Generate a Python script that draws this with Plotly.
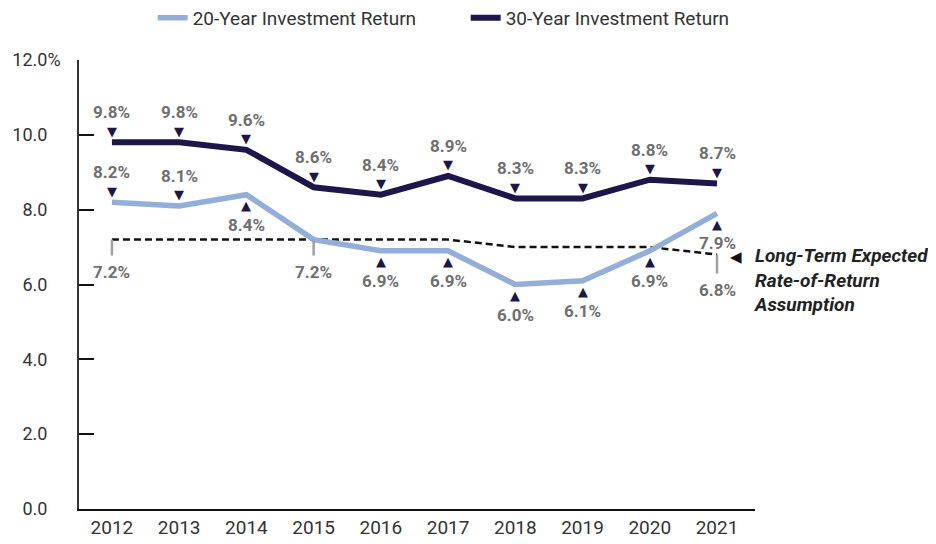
import plotly.graph_objects as go

years = [2012, 2013, 2014, 2015, 2016, 2017, 2018, 2019, 2020, 2021]
ret20 = [8.2, 8.1, 8.4, 7.2, 6.9, 6.9, 6.0, 6.1, 6.9, 7.9]
ret30 = [9.8, 9.8, 9.6, 8.6, 8.4, 8.9, 8.3, 8.3, 8.8, 8.7]
assumption = [7.2, 7.2, 7.2, 7.2, 7.2, 7.2, 7.0, 7.0, 7.0, 6.8]
# label side for 20-year series: 1 = above, -1 = below, 0 = no label
side20 = [1, 1, -1, 0, -1, -1, -1, -1, -1, -1]
# assumption labels shown at these years
assump_label_years = [2012, 2015, 2021]
assump_tick_len = [16, 16, 19]

y_tickvals = [0, 2, 4, 6, 8, 10, 12]
y_ticktext = ["0.0", "2.0", "4.0", "6.0", "8.0", "10.0", "12.0%"]

C20 = "#93AED8"
C30 = "#1C1748"
LBL = "#6F6F6F"
FONT = "Roboto"

fig = go.Figure()
fig.add_trace(go.Scatter(x=years, y=assumption, mode="lines", showlegend=False,
                         line=dict(color="#111111", width=2.5, dash="7px,4px"),
                         hoverinfo="skip"))
fig.add_trace(go.Scatter(x=years, y=ret20, mode="lines", name="20-Year Investment Return",
                         line=dict(color=C20, width=5.5)))
fig.add_trace(go.Scatter(x=years, y=ret30, mode="lines", name="30-Year Investment Return",
                         line=dict(color=C30, width=6)))

ann = []
shapes = []

def point_label(x, y, direction):
    if direction == 0:
        return
    tri = "▼" if direction > 0 else "▲"
    ann.append(dict(x=x, y=y, xref="x", yref="y", text=tri, showarrow=False,
                    yshift=11 * direction, font=dict(family="DejaVu Sans", size=13, color=C30)))
    ann.append(dict(x=x, y=y, xref="x", yref="y", text=f"<b>{y:.1f}%</b>", showarrow=False,
                    yshift=30 * direction, font=dict(family=FONT, size=17, color=LBL)))

for x, y in zip(years, ret30):
    point_label(x, y, 1)
for x, y, s in zip(years, ret20, side20):
    point_label(x, y, s)

for yr, tl in zip(assump_label_years, assump_tick_len):
    v = assumption[years.index(yr)]
    shapes.append(dict(type="line", xref="x", yref="y", x0=yr, x1=yr,
                       ysizemode="pixel", yanchor=v, y0=0, y1=-tl,
                       line=dict(color="#A0A0A0", width=2.5)))
    ann.append(dict(x=yr, y=v, xref="x", yref="y", text=f"<b>{v:.1f}%</b>", showarrow=False,
                    yshift=-(tl + 16), font=dict(family=FONT, size=17, color=LBL)))

last_x, last_v = years[-1], assumption[-1]
ann.append(dict(x=last_x, y=last_v, xref="x", yref="y", text="◀", showarrow=False,
                xshift=19, yshift=-2, font=dict(family="DejaVu Sans", size=15, color="#111111")))
ann.append(dict(x=last_x, y=last_v, xref="x", yref="y",
                text="<b><i>Long-Term Expected<br>Rate-of-Return<br>Assumption</i></b>",
                showarrow=False, xanchor="left", yanchor="middle", align="left",
                xshift=35, yshift=-25,
                font=dict(family=FONT, size=19, color="#222222")))

ticktext_padded = [t if t.endswith("%") else t + "<span style='color:rgba(0,0,0,0)'>%</span>"
                   for t in y_ticktext]

fig.update_layout(
    width=928, height=536,
    margin=dict(l=71, r=181, t=52, b=35, autoexpand=False),
    plot_bgcolor="white", paper_bgcolor="white",
    font=dict(family=FONT, size=18, color="#333333"),
    showlegend=True,
    legend=dict(orientation="h", x=0.109, xanchor="left", y=1.094, yanchor="middle",
                font=dict(family=FONT, size=19, color="#333333"),
                entrywidth=268, entrywidthmode="pixels", bgcolor="rgba(0,0,0,0)"),
    xaxis=dict(range=[2011.51, 2021.565], tickvals=years, ticktext=[str(y) for y in years],
               showgrid=False, zeroline=False, showline=True, linecolor="#111111",
               linewidth=1.5, ticks="", tickfont=dict(size=19, color="#333333"),
               automargin=False),
    yaxis=dict(range=[0, 12], tickvals=y_tickvals, ticktext=ticktext_padded,
               showgrid=False, zeroline=False, showline=True, linecolor="#333333",
               linewidth=1.5, ticks="inside", ticklen=15, tickwidth=2, tickcolor="#111111",
               ticklabelstandoff=13, tickfont=dict(size=18, color="#333333"),
               automargin=False),
    annotations=ann, shapes=shapes,
)

fig.write_html("out.html")
